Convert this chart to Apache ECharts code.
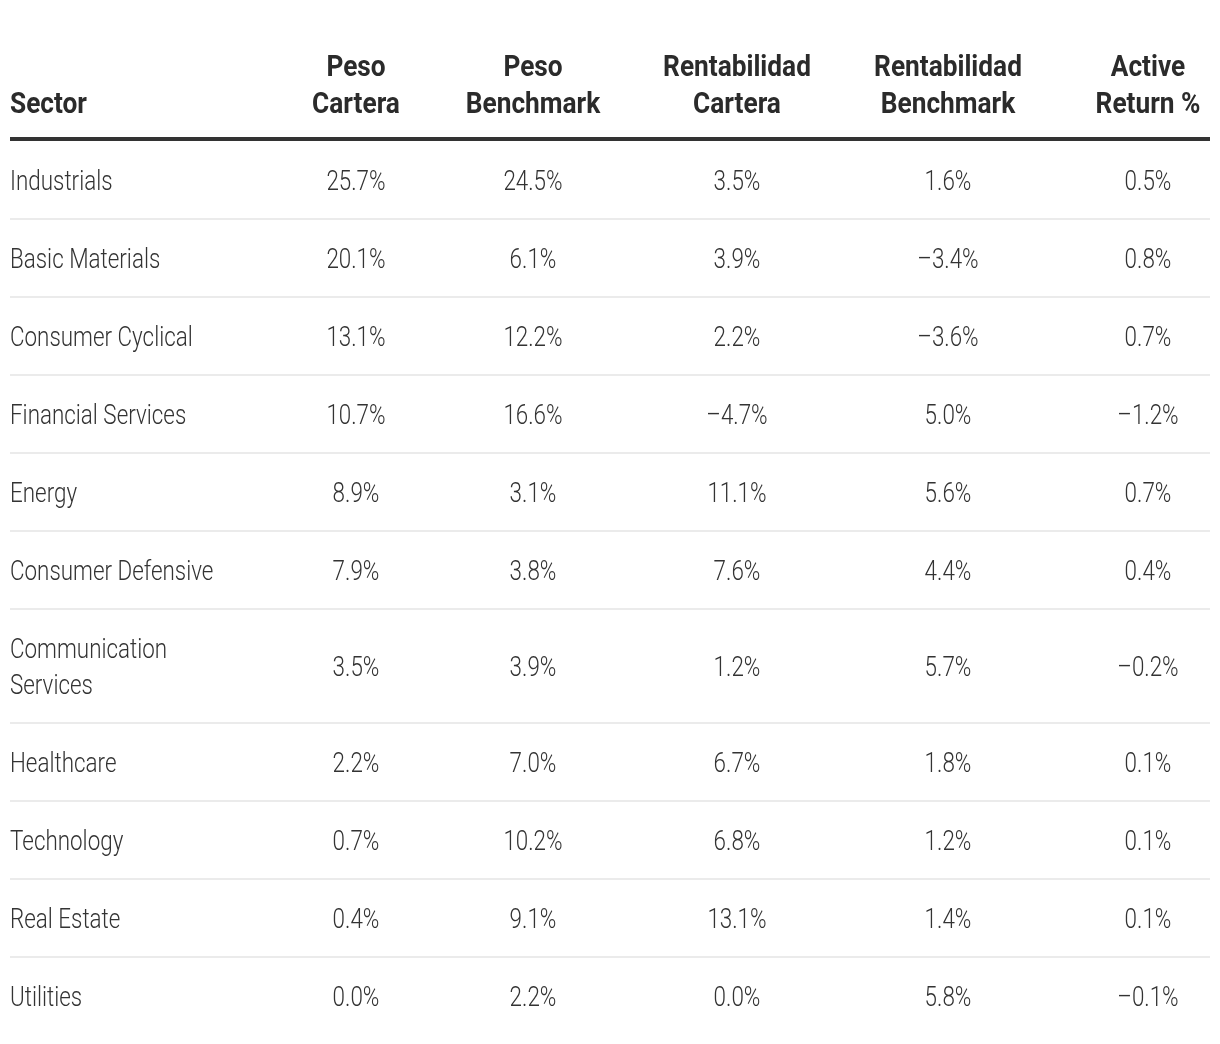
<!DOCTYPE html>
<html>
<head>
<meta charset="utf-8">
<script src="https://cdn.jsdelivr.net/npm/echarts@6/dist/echarts.min.js"></script>
<style>
html,body{margin:0;padding:0;background:#fff;}
#chart{width:1220px;height:1044px;}
</style>
</head>
<body>
<div id="chart"></div>
<script>
// ---- data ----
var headers = ['Sector', 'Peso\nCartera', 'Peso\nBenchmark', 'Rentabilidad\nCartera', 'Rentabilidad\nBenchmark', 'Active\nReturn %'];
var sectors = ['Industrials', 'Basic Materials', 'Consumer Cyclical', 'Financial Services', 'Energy', 'Consumer Defensive', 'Communication\nServices', 'Healthcare', 'Technology', 'Real Estate', 'Utilities'];
var pesoCartera = [25.7, 20.1, 13.1, 10.7, 8.9, 7.9, 3.5, 2.2, 0.7, 0.4, 0.0];
var pesoBenchmark = [24.5, 6.1, 12.2, 16.6, 3.1, 3.8, 3.9, 7.0, 10.2, 9.1, 2.2];
var rentCartera = [3.5, 3.9, 2.2, -4.7, 11.1, 7.6, 1.2, 6.7, 6.8, 13.1, 0.0];
var rentBenchmark = [1.6, -3.4, -3.6, 5.0, 5.6, 4.4, 5.7, 1.8, 1.2, 1.4, 5.8];
var activeReturn = [0.5, 0.8, 0.7, -1.2, 0.7, 0.4, -0.2, 0.1, 0.1, 0.1, -0.1];

// ---- layout ----
var colX = [10, 356, 533, 737, 948, 1148];
var colAlign = ['left', 'center', 'center', 'center', 'center', 'center'];
var tableLeft = 10, tableRight = 1210;
var bodyTop = 141, rowBase = 78, lineH = 36, textShift = 3;
var headerBottom = 123.5, headerLineH = 37;
var FONT_BODY = '300 28px Roboto, "Liberation Sans Narrow", sans-serif';
var FONT_HEAD = 'bold 30px Roboto, "Liberation Sans Narrow", sans-serif';
var BODY_SCALE = 0.8, HEAD_SCALE = 0.875;

function fmt(v) {
  return (v < 0 ? '\u2013' : '') + Math.abs(v).toFixed(1) + '%';
}

var rows = sectors.map(function (s, i) {
  return [s, fmt(pesoCartera[i]), fmt(pesoBenchmark[i]), fmt(rentCartera[i]), fmt(rentBenchmark[i]), fmt(activeReturn[i])];
});

// row positions
var rowTops = [], rowHeights = [];
var acc = bodyTop;
rows.forEach(function (r) {
  var n = r[0].split('\n').length;
  var h = rowBase + lineH * (n - 1);
  rowTops.push(acc); rowHeights.push(h);
  acc += h;
});

var chart = echarts.init(document.getElementById('chart'), null, {renderer: 'canvas'});

function textEl(api, x, y, txt, align, vAlign, font, color, lh, scale) {
  var p = api.coord([x, y]);
  return {
    type: 'text', x: p[0], y: p[1], scaleX: scale,
    style: {text: txt, x: 0, y: 0, align: align, verticalAlign: vAlign, font: font, fill: color, lineHeight: lh}
  };
}

chart.setOption({
  animation: false,
  grid: {left: 0, right: 0, top: 0, bottom: 0},
  xAxis: {type: 'value', min: 0, max: 1220, show: false},
  yAxis: {type: 'value', min: 0, max: 1044, inverse: true, show: false},
  series: [
    {
      type: 'custom',
      silent: true,
      data: [0],
      renderItem: function (params, api) {
        var children = headers.map(function (h, c) {
          return textEl(api, colX[c], headerBottom, h, colAlign[c], 'bottom', FONT_HEAD, '#2b2b2b', headerLineH, HEAD_SCALE);
        });
        var a = api.coord([tableLeft, bodyTop - 2]);
        var b = api.coord([tableRight, bodyTop - 2]);
        children.push({type: 'line', shape: {x1: a[0], y1: a[1], x2: b[0], y2: b[1]}, style: {stroke: '#333333', lineWidth: 4}});
        return {type: 'group', children: children};
      }
    },
    {
      type: 'custom',
      silent: true,
      data: rows.map(function (r, i) { return i; }),
      renderItem: function (params, api) {
        var i = params.dataIndex;
        var r = rows[i];
        var cy = rowTops[i] + rowHeights[i] / 2 + textShift;
        var children = r.map(function (t, c) {
          return textEl(api, colX[c], cy, t, colAlign[c], 'middle', FONT_BODY, '#333333', lineH, BODY_SCALE);
        });
        if (i < rows.length - 1) {
          var yb = rowTops[i] + rowHeights[i];
          var a = api.coord([tableLeft, yb]);
          var b = api.coord([tableRight, yb]);
          children.push({type: 'line', shape: {x1: a[0], y1: a[1], x2: b[0], y2: b[1]}, style: {stroke: '#ebebeb', lineWidth: 2}});
        }
        return {type: 'group', children: children};
      }
    }
  ]
});
</script>
</body>
</html>
